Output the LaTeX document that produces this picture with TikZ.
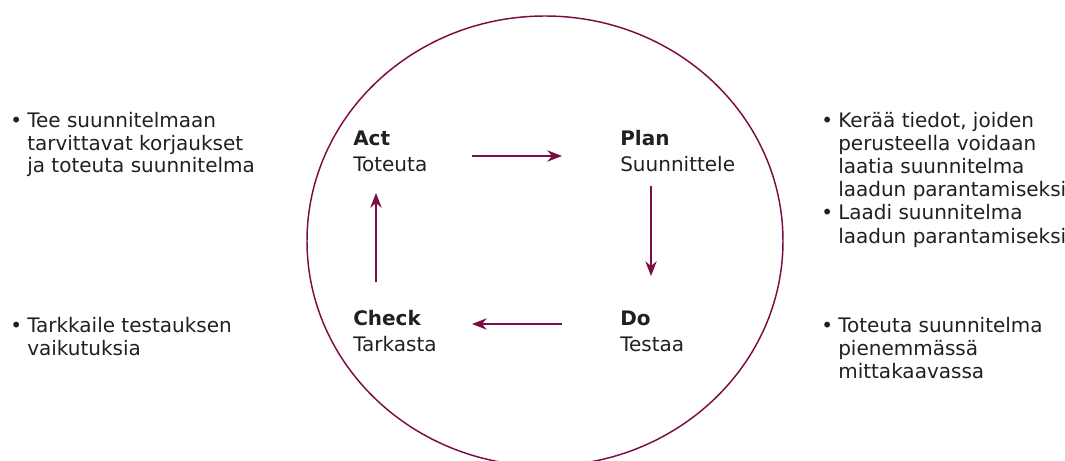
\documentclass[tikz,border=0pt]{standalone}
\usepackage{fontspec}
\setmainfont{DejaVu Sans}
\usetikzlibrary{arrows.meta}
\definecolor{maroon}{RGB}{125,12,70}
\definecolor{txt}{RGB}{35,31,32}
\begin{document}
\begin{tikzpicture}[x=0.75pt,y=-0.75pt,
  every node/.style={inner sep=0pt,anchor=base west,text=txt,font=\fontsize{15}{17}\selectfont},
  head/.style={font=\fontsize{15}{17}\selectfont\bfseries},
  flow/.style={draw=maroon,line width=1.1pt,-{Stealth[length=11pt,width=8.5pt,inset=3.5pt]}}]
\useasboundingbox (0,0) rectangle (1065,461);
\draw[maroon,line width=1.1pt] (545,241) ellipse [x radius=178.5pt, y radius=168.75pt];
% cycle labels
\node[head] (act) at (353,145) {Act};
\node (actsub) at (353,171) {Toteuta};
\node[head] (plan) at (620,145) {Plan};
\node (plansub) at (620,171) {Suunnittele};
\node[head] (check) at (353,325) {Check};
\node (checksub) at (353,351) {Tarkasta};
\node[head] (do) at (620,325) {Do};
\node (dosub) at (620,351) {Testaa};
% arrow ends
\coordinate (a1) at (472,156); \coordinate (a2) at (562,156);
\coordinate (b1) at (651,186); \coordinate (b2) at (651,276);
\coordinate (c1) at (562,324); \coordinate (c2) at (472,324);
\coordinate (d1) at (376,282); \coordinate (d2) at (376,193);
\draw[flow] (a1) -- (a2);
\draw[flow] (b1) -- (b2);
\draw[flow] (c1) -- (c2);
\draw[flow] (d1) -- (d2);
% left texts
\node (l1) at (10,127) {•};
\node (l1a) at (27,127) {Tee suunnitelmaan};
\node (l1b) at (27,150) {tarvittavat korjaukset};
\node (l1c) at (27,172) {ja toteuta suunnitelma};
\node (l2) at (10,332) {•};
\node (l2a) at (27,332) {Tarkkaile testauksen};
\node (l2b) at (27,355) {vaikutuksia};
% right texts
\node (r1) at (821,127) {•};
\node (r1a) at (838,127) {Kerää tiedot, joiden};
\node (r1b) at (838,150) {perusteella voidaan};
\node (r1c) at (838,173) {laatia suunnitelma};
\node (r1d) at (838,196) {laadun parantamiseksi};
\node (r2) at (821,219) {•};
\node (r2a) at (838,219) {Laadi suunnitelma};
\node (r2b) at (838,243) {laadun parantamiseksi};
\node (r3) at (821,332) {•};
\node (r3a) at (838,332) {Toteuta suunnitelma};
\node (r3b) at (838,355) {pienemmässä};
\node (r3c) at (838,378) {mittakaavassa};
\end{tikzpicture}
\end{document}
